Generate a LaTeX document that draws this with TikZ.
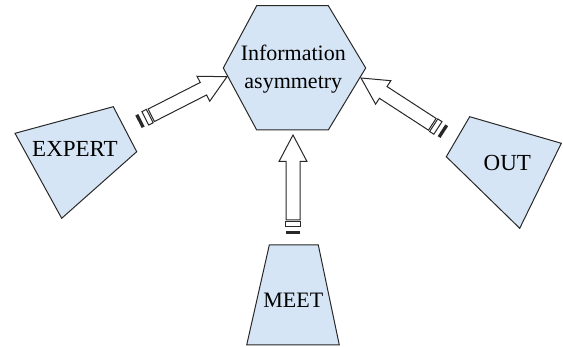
\documentclass[tikz,border=0pt]{standalone}
\usepackage{fontspec}
\setmainfont{Liberation Serif}
\newfontfamily\labelfont{Liberation Serif}
\definecolor{boxfill}{RGB}{214,229,245}
\definecolor{edge}{RGB}{40,40,40}
\begin{document}
\begin{tikzpicture}[x=1pt,y=-1pt,
  boxshape/.style={draw=edge,line width=1pt,fill=boxfill,line join=miter},
  lbl/.style={font=\labelfont\fontsize{22}{28}\selectfont,text=black,align=center,inner sep=0pt},
  biglbl/.style={lbl,font=\labelfont\fontsize{23}{28}\selectfont},
  arrowline/.style={draw=edge,line width=1pt,fill=white,line join=miter},
  blockarr/.pic={
    \draw[arrowline] (0pt,0pt) -- (-26.5pt,14pt) -- (-26.5pt,7pt) -- (-85pt,7pt)
       -- (-85pt,-7pt) -- (-26.5pt,-7pt) -- (-26.5pt,-14pt) -- cycle;
    \draw[arrowline] (-86.7pt,-7.5pt) rectangle (-91.7pt,7.5pt);
    \fill[edge] (-96pt,-7pt) rectangle (-99.3pt,7pt);
  }]
\useasboundingbox (0,0) rectangle (563,347);
% hexagon
\draw[boxshape] (256.7,5.7) -- (328.3,5.7) -- (365.7,68) -- (328.3,130) -- (256.7,130) -- (223.3,68) -- cycle;
\node[lbl] (info) at (293.3,69) {Information\\asymmetry};
% EXPERT
\draw[boxshape] (15,133.3) -- (113.3,106.7) -- (136.7,151.7) -- (61.7,218.3) -- cycle;
\node[biglbl] (expert) at (75,148.5) {EXPERT};
% OUT
\draw[boxshape] (469.7,116.7) -- (561.3,143.3) -- (519.7,228.3) -- (446.3,156.7) -- cycle;
\node[biglbl] (out) at (507.3,163.3) {OUT};
% MEET
\draw[boxshape] (269.3,245) -- (318.3,245) -- (339.3,345) -- (246.7,345) -- cycle;
\node[lbl] (meet) at (293.3,300) {MEET};
% arrow tips
\coordinate (tipE) at (227,76.7);
\coordinate (tipO) at (361,78);
\coordinate (tipM) at (293,135);
\pic[rotate=27] at (tipE) {blockarr};
\pic[rotate=147] at (tipO) {blockarr};
\pic[rotate=90] at (tipM) {blockarr};
\end{tikzpicture}
\end{document}
